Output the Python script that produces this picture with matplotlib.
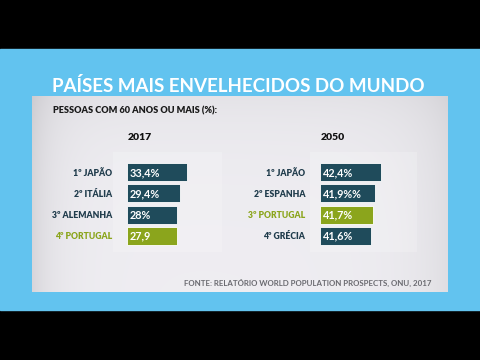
import matplotlib.pyplot as plt
import numpy as np
from matplotlib.patches import Rectangle

plt.rcParams['font.family'] = ['Lato', 'DejaVu Sans']

ranks_2017 = ['1º JAPÃO', '2º ITÁLIA', '3º ALEMANHA', '4º PORTUGAL']
values_2017 = [33.4, 29.4, 28.0, 27.9]
texts_2017 = ['33,4%', '29,4%', '28%', '27,9']

ranks_2050 = ['1º JAPÃO', '2º ESPANHA', '3º PORTUGAL', '4º GRÉCIA']
values_2050 = [42.4, 41.9, 41.7, 41.6]
texts_2050 = ['42,4%', '41,9%%', '41,7%', '41,6%']

highlight_2017 = 'PORTUGAL'
highlight_2050 = 'PORTUGAL'

BLUE = '#62c3ef'
TEAL = '#1f4b5b'
GREEN = '#8ba51c'
NAVY = '#203c4c'

W, H = 480, 360
fig = plt.figure(figsize=(4.8, 3.6), dpi=100)
fig.patch.set_facecolor('black')

# background in pixel coords
bg = fig.add_axes([0, 0, 1, 1])
bg.axis('off')
bg.add_patch(Rectangle((0, 49), W, 261, color=BLUE, zorder=0))

# grey panel with soft gradient
px = np.linspace(32, 448, 300)
py = np.linspace(96, 292, 150)
X, Y = np.meshgrid(px, py)
lum = (0.935 - 0.09 * np.exp(-(X - 32) / 22) - 0.06 * np.exp(-(448 - X) / 35)
       - 0.04 * np.exp(-(Y - 96) / 40))
img = np.dstack([lum, lum - 0.005, lum + 0.012]).clip(0, 1)
bg.imshow(img, extent=(32, 448, 292, 96), aspect='auto',
          interpolation='bilinear', zorder=1)
bg.add_patch(Rectangle((113, 152), 109, 100, color='white', alpha=0.2, lw=0, zorder=2))
bg.add_patch(Rectangle((310, 152), 107, 100, color='white', alpha=0.2, lw=0, zorder=2))
bg.set_xlim(0, W)
bg.set_ylim(H, 0)

bg.text(52, 92.5, 'PAÍSES MAIS ENVELHECIDOS DO MUNDO', color='white',
        fontsize=13.5, fontweight='bold', va='baseline', ha='left')
bg.text(53, 113, 'PESSOAS COM 60 ANOS OU MAIS (%):', color='#1a1a1a',
        fontsize=6.6, fontweight='heavy', va='baseline', ha='left')
bg.text(140, 140, '2017', color='#111111', fontsize=7.5, fontweight='heavy',
        va='baseline', ha='center')
bg.text(333, 140, '2050', color='#111111', fontsize=7.5, fontweight='heavy',
        va='baseline', ha='center')
bg.text(431, 286, 'FONTE: RELATÓRIO WORLD POPULATION PROSPECTS, ONU, 2017',
        color='#6a6a70', fontsize=5.7, fontweight='bold', va='baseline', ha='right')


def px_axes(x0, y0, x1, y1):
    return fig.add_axes([x0 / W, 1 - y1 / H, (x1 - x0) / W, (y1 - y0) / H])


def draw_group(ax, ranks, values, texts, base, span, highlight):
    pos = np.arange(len(values))
    colors = [GREEN if highlight in r else TEAL for r in ranks]
    ax.barh(pos, np.array(values) - base, left=base, height=0.85,
            color=colors, edgecolor='white', linewidth=0.6)
    for p, t in zip(pos, texts):
        ax.annotate(t, xy=(base, p), xytext=(2.2, -0.3), textcoords='offset points',
                    ha='left', va='center', color='white', fontsize=7.8,
                    fontweight='bold')
    ax.set_xlim(base, base + span)
    ax.set_ylim(len(values) - 0.5, -0.5)
    ax.set_yticks(pos)
    ax.set_yticklabels(ranks, fontsize=6.2, fontweight='heavy')
    for lab, c in zip(ax.get_yticklabels(), colors):
        lab.set_color(GREEN if c == GREEN else NAVY)
    ax.tick_params(axis='y', length=0, pad=10.8)
    ax.set_xticks([])
    for s in ax.spines.values():
        s.set_visible(False)
    ax.patch.set_alpha(0)


ax1 = px_axes(127, 161.5, 227, 246.5)
draw_group(ax1, ranks_2017, values_2017, texts_2017, 0.0, 100 / 1.8, highlight_2017)

ax2 = px_axes(320, 161.5, 420, 246.5)
draw_group(ax2, ranks_2050, values_2050, texts_2050, 37.5, 8.0, highlight_2050)

fig.savefig('out.png', dpi=100, facecolor='black')
